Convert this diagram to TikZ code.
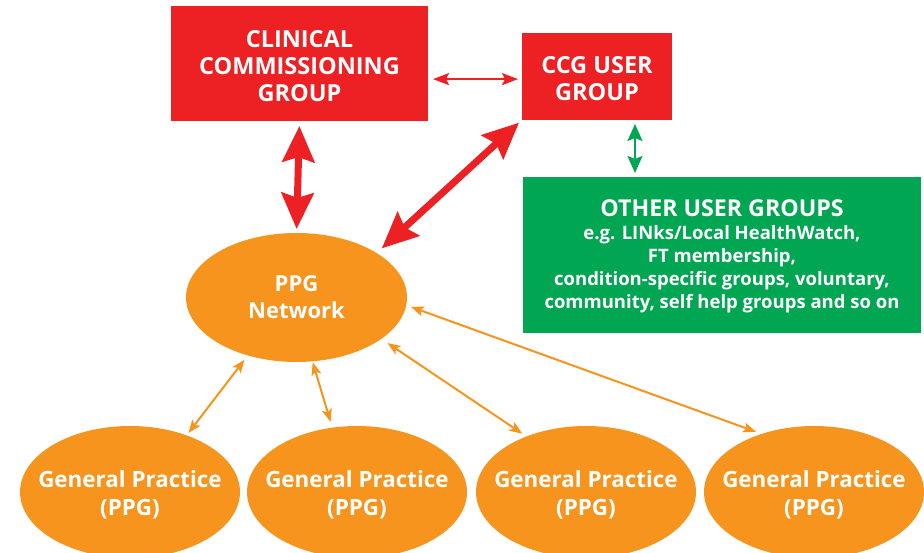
\documentclass[tikz,border=0pt]{standalone}
\usepackage{fontspec}
\setmainfont{Open Sans}
\usetikzlibrary{arrows.meta,shapes.geometric}
\definecolor{ccgred}{HTML}{ED2024}
\definecolor{grpgreen}{HTML}{00A651}
\definecolor{ppgorange}{HTML}{F7941D}
\tikzset{
  redbox/.style={rectangle, fill=ccgred, draw=none, outer sep=0pt, inner sep=0pt},
  greenbox/.style={rectangle, fill=grpgreen, draw=none, outer sep=0pt, inner sep=0pt},
  oval/.style={ellipse, fill=ppgorange, draw=none, outer sep=0pt, inner sep=0pt},
  bigtext/.style={text=white, align=center, font=\bfseries\fontsize{23.5}{27}\selectfont},
  ppgtext/.style={text=white, align=center, font=\bfseries\fontsize{22}{27}\selectfont},
  gptext/.style={text=white, align=center, font=\bfseries\fontsize{22.4}{28.5}\selectfont},
  thickred/.style={draw=ccgred, line width=7pt, {Stealth[length=36pt,width=32pt,inset=5pt]}-{Stealth[length=36pt,width=32pt,inset=5pt]}},
  thinred/.style={draw=ccgred, line width=1.8pt, {Stealth[length=16pt,width=12pt,inset=3pt]}-{Stealth[length=16pt,width=12pt,inset=3pt]}},
  greenarrow/.style={draw=grpgreen, line width=2pt, {Stealth[length=17pt,width=15pt,inset=3pt]}-{Stealth[length=17pt,width=15pt,inset=3pt]}},
  orangearrow/.style={draw=ppgorange, line width=2pt, {Stealth[length=13pt,width=10pt,inset=3pt]}-{Stealth[length=13pt,width=10pt,inset=3pt]}}
}
\begin{document}
\begin{tikzpicture}[x=1pt,y=1pt]
\useasboundingbox (0,0) rectangle (924,553);
% boxes
\node[redbox, minimum width=257pt, minimum height=115pt] (ccg) at (299.5,489.5) {};
\node[bigtext] (ccgt) at (299.5,487) {CLINICAL\\COMMISSIONING\\GROUP};
\node[redbox, minimum width=150pt, minimum height=87pt] (user) at (597,476.5) {};
\node[bigtext] (usert) at (597,474) {CCG USER\\GROUP};
\node[greenbox, minimum width=398pt, minimum height=156pt] (other) at (722,298) {};
\node[text=white, align=center, font=\bfseries\fontsize{18.5}{23}\selectfont] (othert) at (722,297)
  {{\fontsize{23.2}{24}\selectfont OTHER USER GROUPS}\\
   e.g. LINks/Local HealthWatch,\\
   FT membership,\\
   condition-specific groups, voluntary,\\
   community, self help groups and so on};
% ellipses
\node[oval, minimum width=221pt, minimum height=129pt] (ppg) at (296.5,255.5) {};
\node[ppgtext] (ppgt) at (296.5,256) {PPG\\Network};
\node[oval, minimum width=220pt, minimum height=132pt] (gp1) at (130,61) {};
\node[oval, minimum width=220pt, minimum height=132pt] (gp2) at (357,61) {};
\node[oval, minimum width=220pt, minimum height=132pt] (gp3) at (586,61) {};
\node[oval, minimum width=220pt, minimum height=132pt] (gp4) at (814,61) {};
\node[gptext] (gp1t) at ([yshift=-3pt]gp1.center) {General Practice\\(PPG)};
\node[gptext] (gp2t) at ([yshift=-3pt]gp2.center) {General Practice\\(PPG)};
\node[gptext] (gp3t) at ([yshift=-3pt]gp3.center) {General Practice\\(PPG)};
\node[gptext] (gp4t) at ([yshift=-3pt]gp4.center) {General Practice\\(PPG)};
% connectors
\draw[thinred, shorten <=5pt, shorten >=4pt] (ccg.east |- user.182.7) -- (user.182.7);
\draw[thickred, shorten <=5pt, shorten >=4pt] (ccg.south) -- (ppg.north);
\draw[thickred, shorten <=4pt, shorten >=7pt] (user.south west) -- (ppg.29.6);
\draw[greenarrow, shorten <=4pt, shorten >=4pt] (635,0 |- user.south) -- (635,0 |- other.north);
\draw[orangearrow, shorten <=5.5pt, shorten >=3pt] (ppg.230.5) -- (gp1.45);
\draw[orangearrow, shorten <=1pt, shorten >=6pt] (ppg.-76.5) -- (gp2.111.8);
\draw[orangearrow, shorten <=7.5pt, shorten >=5pt] (ppg.-26.7) -- (gp3.137.3);
\draw[orangearrow, shorten <=5pt, shorten >=6pt] (ppg.-4.7) -- (gp4.132.6);
\end{tikzpicture}
\end{document}
